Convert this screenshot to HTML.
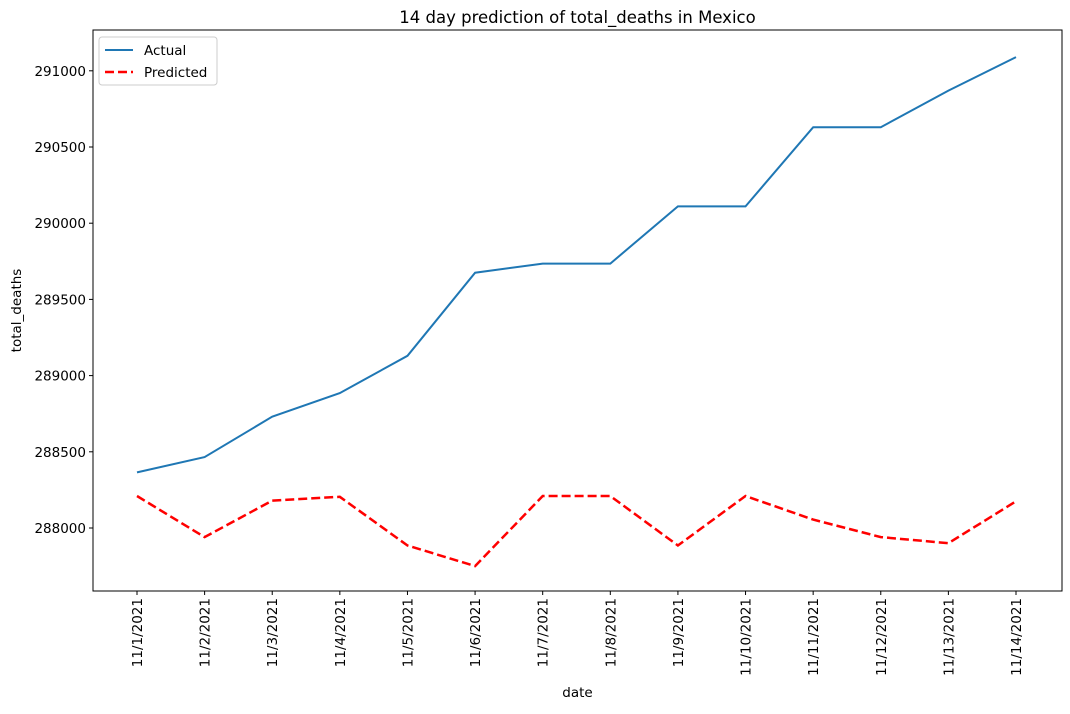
<!DOCTYPE html>
<html><head><meta charset="utf-8"><style>
body{margin:0;background:#fff;font-family:"Liberation Sans","DejaVu Sans",sans-serif;}
text{font-family:"DejaVu Sans","Liberation Sans",sans-serif;fill:#000;}
</style></head><body>
<svg id="chart" width="1070" height="709" xmlns="http://www.w3.org/2000/svg">
<rect x="0" y="0" width="1070" height="709" fill="#fff"/>
<g id="axes"></g>
</svg>
<script>
const categories=["11/1/2021","11/2/2021","11/3/2021","11/4/2021","11/5/2021","11/6/2021","11/7/2021","11/8/2021","11/9/2021","11/10/2021","11/11/2021","11/12/2021","11/13/2021","11/14/2021"];
const actualValues=[288365,288465,288730,288885,289130,289675,289735,289735,290110,290110,290630,290630,290870,291090];
const predictedValues=[288210,287940,288180,288205,287885,287750,288210,288210,287885,288210,288055,287940,287900,288175];
const yTicks=[288000,288500,289000,289500,290000,290500,291000];

const NS="http://www.w3.org/2000/svg";
const g=document.getElementById('axes');
const L=93,R=1062,T=30,B=591;
function xs(i){return 137+i*(1016-137)/(categories.length-1);}
function ys(v){return 528-(v-288000)*(76.2/500);}
function mk(tag,attrs,parent){const e=document.createElementNS(NS,tag);for(const k in attrs)e.setAttribute(k,attrs[k]);(parent||g).appendChild(e);return e;}

const frame=mk('rect',{x:L,y:T,width:R-L,height:B-T,fill:'none',stroke:'#000','stroke-width':1});



yTicks.forEach(v=>{
  const y=ys(v);
  const t=mk('line',{x1:L-4,x2:L,y1:y,y2:y,stroke:'#000'});
  
  
  const tx=mk('text',{x:L-7,y:y+5,'text-anchor':'end','font-size':'13.5'});
  tx.textContent=v;
  
  
});
categories.forEach((c,i)=>{
  const x=xs(i);
  const t=mk('line',{x1:x,x2:x,y1:B,y2:B+4,stroke:'#000'});
  
  
  const tx=mk('text',{x:0,y:0,'text-anchor':'end','font-size':'13.5',transform:`translate(${x+5},${B+7}) rotate(-90)`});
  tx.textContent=c;
  
  
});
function line(vals,attrs,name){
  const p=vals.map((v,i)=>(i?'L':'M')+xs(i).toFixed(1)+','+ys(v).toFixed(1)).join('');
  const e=mk('path',Object.assign({d:p,fill:'none'},attrs));
  
  
}
line(actualValues,{stroke:'#1f77b4','stroke-width':2},'actual-line');
line(predictedValues,{stroke:'#ff0000','stroke-width':2.5,'stroke-dasharray':'9,4'},'predicted-line');

const title=mk('text',{x:(L+R)/2,y:23,'text-anchor':'middle','font-size':'16.5'});
title.textContent='14 day prediction of total_deaths in Mexico';


const xl=mk('text',{x:(L+R)/2,y:697,'text-anchor':'middle','font-size':'13.5'});
xl.textContent='date';


const yl=mk('text',{x:0,y:0,'text-anchor':'middle','font-size':'13.5',transform:`translate(21,${(T+B)/2}) rotate(-90)`});
yl.textContent='total_deaths';



const lg=mk('g',{});


mk('rect',{x:99,y:37,width:118,height:48,rx:3,fill:'#fff',stroke:'#ccc'},lg);
mk('line',{x1:105,x2:133,y1:50,y2:50,stroke:'#1f77b4','stroke-width':2},lg);
const t1=mk('text',{x:144,y:55,'font-size':'13.5'},lg);t1.textContent='Actual';


mk('line',{x1:105,x2:133,y1:72,y2:72,stroke:'#ff0000','stroke-width':2.5,'stroke-dasharray':'9,4'},lg);
const t2=mk('text',{x:144,y:77,'font-size':'13.5'},lg);t2.textContent='Predicted';


</script>
</body></html>
